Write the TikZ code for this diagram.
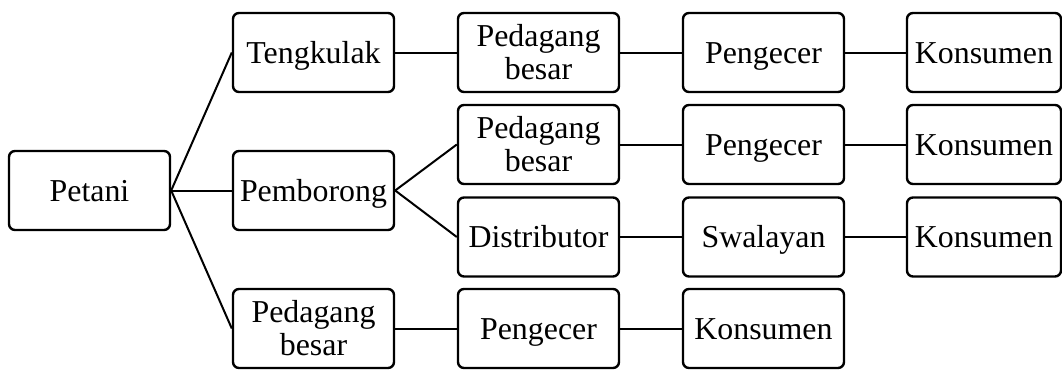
\documentclass[tikz,border=0pt]{standalone}
\usepackage{fontspec}
\setmainfont{Liberation Serif}
\begin{document}
\begin{tikzpicture}[x=1bp,y=-1bp,
  base/.style={draw, line width=2.4bp, rounded corners=6bp, minimum width=161bp, minimum height=79bp, inner sep=0pt, font=\fontsize{32}{33}\selectfont},
  box/.style={base, align=center},
  one/.style={base, text height=21bp, text depth=0pt},
  lastbox/.style={one, minimum width=154bp},
  link/.style={line width=2bp}]
\useasboundingbox (0,0) rectangle (1062,369);
\node[one] (petani) at (89.5,190.5) {Petani};
\node[one] (tengkulak) at (313.5,52.5) {Tengkulak};
\node[one] (pemborong) at (313.5,190.5) {Pemborong};
\node[box] (pb3) at (313.5,328.5) {Pedagang\\besar};
\node[box] (pb1) at (538.5,52.5) {Pedagang\\besar};
\node[box] (pb2) at (538.5,144.5) {Pedagang\\besar};
\node[one] (dist) at (538.5,237) {Distributor};
\node[one] (peng3) at (538.5,328.5) {Pengecer};
\node[one] (peng1) at (763.5,52.5) {Pengecer};
\node[one] (peng2) at (763.5,144.5) {Pengecer};
\node[one] (swal) at (763.5,237) {Swalayan};
\node[one] (kons4) at (763.5,328.5) {Konsumen};
\node[lastbox] (kons1) at (984,52.5) {Konsumen};
\node[lastbox] (kons2) at (984,144.5) {Konsumen};
\node[lastbox] (kons3) at (984,237) {Konsumen};
\draw[link] (petani.east) -- (tengkulak.west);
\draw[link] (petani.east) -- (pemborong.west);
\draw[link] (petani.east) -- (pb3.west);
\draw[link] (pemborong.east) -- (pb2.west);
\draw[link] (pemborong.east) -- (dist.west);
\draw[link] (tengkulak) -- (pb1);
\draw[link] (pb1) -- (peng1);
\draw[link] (peng1) -- (kons1);
\draw[link] (pb2) -- (peng2);
\draw[link] (peng2) -- (kons2);
\draw[link] (dist) -- (swal);
\draw[link] (swal) -- (kons3);
\draw[link] (pb3) -- (peng3);
\draw[link] (peng3) -- (kons4);
\end{tikzpicture}
\end{document}
